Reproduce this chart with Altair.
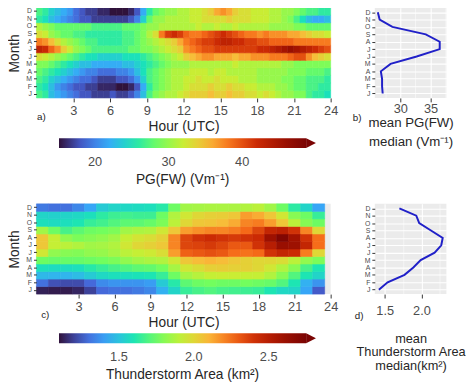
import altair as alt
import pandas as pd

MONTHS = ["Jan", "Feb", "Mar", "Apr", "May", "Jun", "Jul", "Aug", "Sep", "Oct", "Nov", "Dec"]

# PG(FW) median, half-hour bins 00:00 ... 23:30 UTC (V/m)
pg_jan = [27, 26, 23, 22, 21, 20, 19, 18, 18, 17, 17, 17, 18, 17, 17, 18, 20, 23, 27, 29, 30, 31, 31, 32,
          33, 34, 34, 34, 35, 34, 34, 35, 34, 34, 33, 33, 32, 33, 32, 31, 30, 30, 29, 29, 27, 26, 26, 25]
pg_feb = [26, 25, 23, 21, 20, 19, 18, 18, 17, 17, 16, 16, 16, 15, 15, 16, 18, 22, 26, 28, 29, 30, 31, 31,
          32, 33, 33, 33, 34, 33, 33, 34, 33, 33, 32, 32, 31, 31, 31, 30, 30, 29, 28, 28, 27, 27, 26, 26]
pg_mar = [27, 26, 24, 23, 22, 21, 20, 19, 19, 18, 17, 17, 17, 18, 18, 19, 21, 24, 27, 28, 29, 30, 31, 31,
          32, 32, 33, 32, 32, 33, 32, 32, 32, 31, 31, 31, 30, 30, 30, 30, 29, 29, 28, 28, 27, 27, 27, 26]
pg_apr = [28, 27, 26, 25, 24, 23, 22, 21, 20, 20, 19, 19, 19, 20, 20, 21, 23, 25, 27, 28, 29, 30, 31, 31,
          31, 32, 32, 32, 31, 32, 32, 31, 31, 31, 31, 31, 30, 30, 30, 30, 30, 29, 29, 29, 28, 28, 28, 27]
pg_may = [29, 29, 28, 27, 26, 25, 24, 23, 23, 22, 22, 22, 22, 22, 23, 23, 24, 25, 26, 27, 28, 29, 30, 30,
          30, 31, 31, 31, 31, 31, 31, 31, 32, 31, 31, 31, 31, 31, 31, 31, 30, 30, 29, 29, 29, 29, 29, 29]
pg_jun = [33, 32, 31, 30, 29, 28, 27, 26, 25, 25, 24, 24, 24, 24, 25, 25, 25, 26, 27, 28, 29, 30, 31, 32,
          34, 35, 36, 37, 37, 36, 36, 36, 35, 36, 36, 37, 37, 37, 38, 38, 38, 39, 40, 40, 37, 35, 34, 33]
pg_jul = [43, 42, 39, 37, 34, 32, 30, 29, 28, 27, 27, 27, 27, 27, 27, 28, 28, 29, 29, 30, 31, 32, 33, 34,
          37, 38, 39, 40, 40, 41, 41, 41, 41, 41, 41, 41, 42, 42, 43, 44, 45, 46, 45, 44, 43, 42, 41, 40]
pg_aug = [38, 37, 35, 33, 31, 30, 29, 28, 27, 27, 26, 26, 26, 26, 27, 27, 28, 29, 30, 31, 32, 33, 34, 36,
          38, 39, 40, 41, 41, 42, 43, 43, 42, 42, 41, 41, 40, 40, 39, 39, 39, 39, 38, 38, 38, 38, 38, 38]
pg_sep = [33, 32, 30, 29, 28, 28, 27, 27, 26, 26, 26, 26, 26, 26, 27, 27, 28, 29, 31, 33, 38, 41, 42, 41,
          39, 38, 38, 39, 40, 41, 42, 41, 40, 39, 38, 38, 37, 38, 37, 37, 37, 36, 36, 35, 34, 33, 33, 32]
pg_oct = [31, 30, 29, 28, 28, 28, 28, 28, 28, 27, 27, 27, 27, 27, 28, 28, 28, 29, 30, 30, 31, 31, 31, 31,
          31, 31, 32, 31, 31, 32, 31, 31, 32, 31, 31, 31, 31, 31, 30, 30, 30, 30, 29, 29, 28, 28, 28, 28]
pg_nov = [26, 25, 23, 22, 21, 20, 19, 18, 18, 17, 17, 17, 17, 17, 17, 18, 20, 24, 28, 30, 30, 31, 31, 31,
          31, 32, 32, 33, 33, 33, 33, 34, 33, 33, 33, 32, 32, 32, 31, 31, 30, 29, 27, 25, 23, 22, 22, 23]
pg_dec = [27, 26, 24, 23, 22, 21, 19, 18, 17, 17, 16, 16, 15, 15, 15, 16, 18, 22, 26, 28, 29, 30, 30, 31,
          31, 32, 32, 33, 34, 36, 37, 36, 34, 33, 33, 32, 32, 32, 31, 31, 30, 30, 29, 28, 27, 27, 26, 26]
PG_ROWS = [pg_jan, pg_feb, pg_mar, pg_apr, pg_may, pg_jun, pg_jul, pg_aug, pg_sep, pg_oct, pg_nov, pg_dec]

# Thunderstorm area median, hourly bins 0 ... 23 UTC (km^2)
ta_jan = [1.13, 1.12, 1.12, 1.14, 1.20, 1.28, 1.30, 1.30, 1.32, 1.35, 1.45, 1.55, 1.65, 1.68, 1.70, 1.68, 1.67, 1.66, 1.65, 1.60, 1.56, 1.55, 1.42, 1.25]
ta_feb = [1.30, 1.23, 1.22, 1.22, 1.28, 1.36, 1.38, 1.38, 1.38, 1.40, 1.52, 1.62, 1.72, 1.75, 1.76, 1.75, 1.75, 1.76, 1.75, 1.74, 1.70, 1.60, 1.45, 1.38]
ta_mar = [1.47, 1.46, 1.46, 1.48, 1.52, 1.56, 1.58, 1.58, 1.59, 1.60, 1.65, 1.75, 1.86, 1.89, 1.92, 1.93, 1.93, 1.92, 1.92, 1.88, 1.80, 1.70, 1.60, 1.55]
ta_apr = [1.58, 1.57, 1.57, 1.58, 1.62, 1.65, 1.68, 1.70, 1.72, 1.73, 1.76, 1.86, 1.95, 1.98, 2.02, 2.03, 2.02, 2.02, 2.00, 1.95, 1.88, 1.80, 1.68, 1.60]
ta_may = [1.75, 1.74, 1.74, 1.74, 1.75, 1.76, 1.78, 1.82, 1.85, 1.87, 1.88, 1.95, 2.05, 2.08, 2.10, 2.08, 2.05, 2.02, 2.00, 2.00, 1.98, 1.90, 1.82, 1.78]
ta_jun = [1.95, 1.82, 1.80, 1.79, 1.82, 1.83, 1.86, 1.90, 1.92, 1.94, 1.98, 2.15, 2.28, 2.30, 2.32, 2.30, 2.25, 2.24, 2.26, 2.40, 2.45, 2.42, 2.22, 2.00]
ta_jul = [2.05, 1.92, 1.90, 1.88, 1.85, 1.86, 1.88, 1.95, 2.00, 2.02, 2.05, 2.20, 2.35, 2.36, 2.38, 2.35, 2.30, 2.30, 2.40, 2.50, 2.62, 2.60, 2.45, 2.25]
ta_aug = [2.05, 1.92, 1.82, 1.78, 1.80, 1.82, 1.85, 1.92, 1.96, 1.98, 2.02, 2.20, 2.35, 2.40, 2.42, 2.40, 2.38, 2.40, 2.42, 2.60, 2.72, 2.58, 2.40, 2.25]
ta_sep = [1.85, 1.75, 1.68, 1.72, 1.75, 1.76, 1.78, 1.85, 1.87, 1.88, 1.95, 2.05, 2.15, 2.18, 2.20, 2.20, 2.22, 2.26, 2.35, 2.45, 2.48, 2.40, 2.20, 2.00]
ta_oct = [1.58, 1.57, 1.58, 1.60, 1.65, 1.67, 1.70, 1.72, 1.72, 1.74, 1.78, 1.90, 2.00, 2.05, 2.06, 2.08, 2.12, 2.20, 2.22, 2.15, 2.05, 1.90, 1.80, 1.75]
ta_nov = [1.55, 1.54, 1.55, 1.56, 1.58, 1.63, 1.66, 1.67, 1.66, 1.66, 1.75, 1.88, 1.95, 2.00, 2.02, 2.03, 2.05, 2.15, 2.12, 2.05, 1.95, 1.80, 1.75, 1.65]
ta_dec = [1.32, 1.30, 1.30, 1.35, 1.42, 1.52, 1.55, 1.56, 1.57, 1.58, 1.62, 1.75, 1.85, 1.86, 1.87, 1.87, 1.87, 1.88, 1.90, 1.85, 1.75, 1.63, 1.55, 1.42]
TA_ROWS = [ta_jan, ta_feb, ta_mar, ta_apr, ta_may, ta_jun, ta_jul, ta_aug, ta_sep, ta_oct, ta_nov, ta_dec]

# monthly means of the medians (Jan..Dec)
PG_PROFILE = [27.1, 27.0, 27.0, 26.8, 28.4, 32.7, 36.5, 36.5, 34.2, 28.7, 26.6, 26.3]
TA_PROFILE = [1.42, 1.54, 1.77, 1.89, 1.99, 2.18, 2.27, 2.29, 2.13, 1.97, 1.93, 1.70]

HOUR_TICKS = [3, 6, 9, 12, 15, 18, 21, 24]
PG_LEGEND_TICKS = [20, 30, 40]
TA_LEGEND_TICKS = [1.5, 2.0, 2.5]
PG_PROFILE_TICKS = [27.5, 30, 32.5, 35, 37.5]
TA_PROFILE_TICKS = [1.5, 1.75, 2.0, 2.25]

TURBO = ["#30123b", "#4662d7", "#36aaf9", "#1ae4b6", "#72fe5e", "#c8ef34",
         "#faba39", "#f66b19", "#cb2a04", "#a11201", "#7a0403"]

FONT = "Liberation Sans"
TICK_TXT = "#4d4d4d"
TITLE_TXT = "#262626"
LINE_BLUE = "#2020c8"
PANEL_GRAY = "#ebebeb"

# ---------- tables ----------
pg_records = []
for m, row in zip(MONTHS, PG_ROWS):
    for i, v in enumerate(row):
        pg_records.append({"month": m, "h0": i * 0.5, "h1": i * 0.5 + 0.5, "pg": v})
df_pg = pd.DataFrame(pg_records)

ta_records = []
for m, row in zip(MONTHS, TA_ROWS):
    for h, v in enumerate(row):
        ta_records.append({"month": m, "h0": h - 0.5, "h1": h + 0.5, "ta": v})
df_ta = pd.DataFrame(ta_records)

df_pgp = pd.DataFrame({"month": MONTHS, "idx": list(range(12)), "v": PG_PROFILE})
df_tap = pd.DataFrame({"month": MONTHS, "idx": list(range(12)), "v": TA_PROFILE})


def turbo_scale(d0, d1, eps=0.0):
    # eps only keeps the (legend-less) stroke scale distinct from the colour scale
    return alt.Scale(domain=[d0 + (d1 - d0) * i / 10 + eps for i in range(11)],
                     range=TURBO, interpolate="rgb", clamp=True)


def month_axis(title=None):
    kw = dict(labelExpr="substring(datum.label, 0, 1)", labelFontSize=7, labelColor=TICK_TXT,
              labelPadding=2, tickSize=3, tickColor="#333333", domain=False, labelFont=FONT,
              labelOverlap=False)
    if title:
        kw.update(title=title, titleFontSize=14, titleFontWeight="normal", titleColor=TITLE_TXT,
                  titlePadding=4, titleFont=FONT)
    else:
        kw.update(title=None, grid=True, gridColor="white", gridWidth=1.1)
    return alt.Axis(**kw)


def hour_axis():
    return alt.Axis(values=HOUR_TICKS, title="Hour (UTC)", labelFontSize=13, labelColor=TICK_TXT,
                    labelPadding=3, tickSize=4, tickColor="#333333", domain=False, grid=False,
                    labelFlush=False, labelOverlap=False, titleFontSize=14, titleFontWeight="normal",
                    titleColor=TITLE_TXT, titlePadding=2, labelFont=FONT, titleFont=FONT)


def color_legend(title, ticks, ly, fmt):
    return alt.Legend(type="gradient", orient="none", direction="horizontal", legendX=23, legendY=ly,
                      gradientLength=252, gradientThickness=10, gradientStrokeWidth=0,
                      values=ticks, format=fmt, labelFontSize=13, labelColor=TICK_TXT, labelOffset=8,
                      labelFont=FONT, labelOverlap=False, title=title, titleOrient="bottom",
                      titleAnchor="middle", titleFontSize=14, titleFontWeight="normal",
                      titleColor=TITLE_TXT, titlePadding=5, titleFont=FONT, padding=0)


def arrow(ly, color):
    return alt.Chart(pd.DataFrame({"k": [0]})).mark_point(
        shape="M-1,-1L1,0L-1,1Z", filled=True, size=100, color=color, opacity=1, strokeWidth=0
    ).encode(x=alt.value(280), y=alt.value(ly + 5))


def panel_label(txt, x, y):
    return alt.Chart(pd.DataFrame({"t": [txt]})).mark_text(
        fontSize=10, font=FONT, color="#222222", align="center", baseline="middle"
    ).encode(text="t:N", x=alt.value(x), y=alt.value(y))


# ---------- a) PG heatmap ----------
heat_a = alt.Chart(df_pg).mark_rect(strokeWidth=0.6).encode(
    x=alt.X("h0:Q", scale=alt.Scale(domain=[0, 24], nice=False, zero=False), axis=hour_axis()),
    x2="h1:Q",
    y=alt.Y("month:N", sort=MONTHS[::-1], axis=month_axis("Month")),
    color=alt.Color("pg:Q", scale=turbo_scale(15.1, 48.7),
                    legend=color_legend("PG(FW) (Vm⁻¹)", PG_LEGEND_TICKS, 133, "d")),
    stroke=alt.Stroke("pg:Q", scale=turbo_scale(15.1, 48.7, 1e-6), legend=None),
)
panel_a = alt.layer(heat_a, arrow(133, TURBO[-1]), panel_label("a)", 5, 111)).properties(
    width=300, height=92)


# ---------- b) / d) profiles ----------
def profile(df, dom, ticks, test, title, fmt, lpad, tpad, tfs, tlh):
    return alt.Chart(df).mark_line(color=LINE_BLUE, strokeWidth=2).encode(
        x=alt.X("v:Q", scale=alt.Scale(domain=dom, nice=False, zero=False),
                axis=alt.Axis(values=ticks, format=fmt,
                              labelExpr="(%s) ? datum.label : ''" % test,
                              grid=True, gridColor="white",
                              gridWidth={"condition": {"test": test, "value": 1.1}, "value": 0.5},
                              tickOpacity={"condition": {"test": test, "value": 1}, "value": 0},
                              labelFontSize=13, labelColor=TICK_TXT, labelPadding=lpad, tickSize=4,
                              tickColor="#333333", domain=False, labelFlush=False, labelOverlap=False,
                              labelFont=FONT, title=title, titleFontSize=tfs,
                              titleFontWeight="normal", titleColor=TITLE_TXT, titlePadding=tpad,
                              titleLineHeight=tlh, titleFont=FONT)),
        y=alt.Y("month:N", sort=MONTHS[::-1], scale=alt.Scale(type="point", padding=0.6),
                axis=month_axis()),
        order=alt.Order("idx:Q"),
    )


line_b = profile(df_pgp, [25.8, 37.6], PG_PROFILE_TICKS, "datum.value % 5 == 0",
                 ["mean PG(FW)", "median (Vm⁻¹)"], "d", 1, 0, 13.5, 19)
panel_b = alt.layer(line_b, panel_label("b)", -18, 112)).properties(
    width=73, height=92, view=alt.ViewBackground(fill=PANEL_GRAY, stroke=None))

# ---------- c) thunderstorm area heatmap ----------
heat_c = alt.Chart(df_ta).mark_rect(strokeWidth=0.6).encode(
    x=alt.X("h0:Q", scale=alt.Scale(domain=[-0.5, 24], nice=False, zero=False), axis=hour_axis()),
    x2="h1:Q",
    y=alt.Y("month:N", sort=MONTHS[::-1], axis=month_axis("Month")),
    color=alt.Color("ta:Q", scale=turbo_scale(1.10, 2.75),
                    legend=color_legend("Thunderstorm Area (km²)", TA_LEGEND_TICKS, 132, ".1f")),
    stroke=alt.Stroke("ta:Q", scale=turbo_scale(1.10, 2.75, 1e-7), legend=None),
)
panel_c = alt.layer(heat_c, arrow(132, TURBO[-1]), panel_label("c)", 9, 113)).properties(
    width=300, height=92, view=alt.ViewBackground(fill=PANEL_GRAY, stroke=None))

# ---------- d) ----------
line_d = profile(df_tap, [1.365, 2.34], TA_PROFILE_TICKS, "datum.value * 2 % 1 == 0",
                 ["mean", "Thunderstorm Area", "median(km²)"], ".1f", 7, 15, 13, 14)
panel_d = alt.layer(line_d, panel_label("d)", -16, 114)).properties(
    width=73, height=92, view=alt.ViewBackground(fill=PANEL_GRAY, stroke=None))

chart = alt.concat(
    panel_a, panel_b, panel_c, panel_d,
    columns=2, spacing={"row": 108, "column": 45}, bounds="flush",
).resolve_scale(
    color="independent", stroke="independent", x="independent", y="independent"
).properties(
    padding={"left": 0, "top": -5, "right": 0, "bottom": 0}, background="white"
).configure_view(stroke=None)

chart.save("out.html", embed_options={"renderer": "svg", "actions": False})
